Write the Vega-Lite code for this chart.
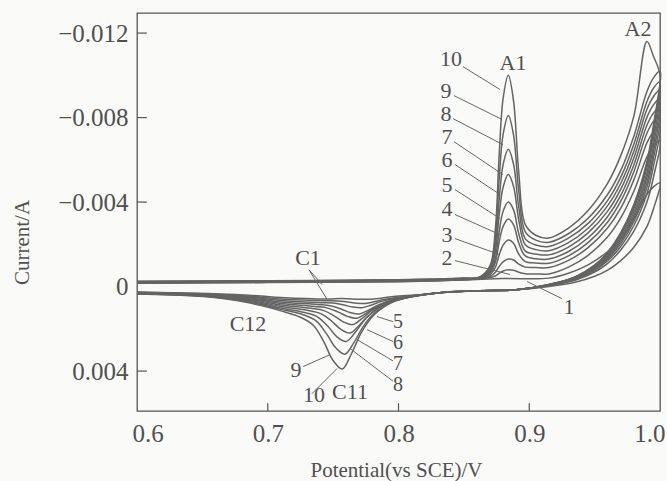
{
"$schema": "https://vega.github.io/schema/vega-lite/v6.json",
"width": 523, "height": 398,
"autosize": {"type": "none"},
"padding": {"left": 137, "top": 13, "right": 7, "bottom": 70},
"background": "#fafaf8",
"config": {"view": {"stroke": "#555555", "strokeWidth": 1.3}, "font": "Liberation Serif"},
"datasets": {
"cv": [
{"c":10,"v":0.6,"i":-0.00025},{"c":10,"v":0.7,"i":-0.00028},{"c":10,"v":0.8,"i":-0.00032},{"c":10,"v":0.85,"i":-0.0004},{"c":10,"v":0.862,"i":-0.00045},{"c":10,"v":0.87,"i":-0.00099},{"c":10,"v":0.874,"i":-0.00267},{"c":10,"v":0.877,"i":-0.00623},{"c":10,"v":0.88,"i":-0.0089},{"c":10,"v":0.884,"i":-0.01},{"c":10,"v":0.888,"i":-0.00878},{"c":10,"v":0.892,"i":-0.00538},{"c":10,"v":0.897,"i":-0.00293},{"c":10,"v":0.905,"i":-0.00243},{"c":10,"v":0.915,"i":-0.0023},{"c":10,"v":0.93,"i":-0.00277},{"c":10,"v":0.945,"i":-0.0036},{"c":10,"v":0.96,"i":-0.0049},{"c":10,"v":0.97,"i":-0.0062},{"c":10,"v":0.98,"i":-0.00807},{"c":10,"v":0.99,"i":-0.0116},{"c":10,"v":0.995,"i":-0.0109},{"c":10,"v":1.0,"i":-0.01},
{"c":10,"v":0.995,"i":-0.0075},{"c":10,"v":0.99,"i":-0.0058},{"c":10,"v":0.98,"i":-0.0038},{"c":10,"v":0.97,"i":-0.0025},{"c":10,"v":0.96,"i":-0.0016},{"c":10,"v":0.95,"i":-0.001},{"c":10,"v":0.935,"i":-0.00045},{"c":10,"v":0.915,"i":-0.0001},{"c":10,"v":0.89,"i":0.00015},{"c":10,"v":0.86,"i":0.0002},{"c":10,"v":0.83,"i":0.0003},{"c":10,"v":0.797,"i":0.0007},{"c":10,"v":0.782,"i":0.0013},{"c":10,"v":0.772,"i":0.00213},{"c":10,"v":0.764,"i":0.00318},{"c":10,"v":0.757,"i":0.0039},{"c":10,"v":0.75,"i":0.0035},{"c":10,"v":0.743,"i":0.00263},{"c":10,"v":0.735,"i":0.00184},{"c":10,"v":0.725,"i":0.00145},{"c":10,"v":0.71,"i":0.00115},{"c":10,"v":0.695,"i":0.0009},{"c":10,"v":0.675,"i":0.00065},{"c":10,"v":0.645,"i":0.00045},{"c":10,"v":0.6,"i":0.00035},
{"c":9,"v":0.6,"i":-0.00024},{"c":9,"v":0.7,"i":-0.00027},{"c":9,"v":0.8,"i":-0.00031},{"c":9,"v":0.85,"i":-0.00039},{"c":9,"v":0.862,"i":-0.00044},{"c":9,"v":0.87,"i":-0.0009},{"c":9,"v":0.874,"i":-0.00226},{"c":9,"v":0.877,"i":-0.00509},{"c":9,"v":0.88,"i":-0.0072},{"c":9,"v":0.884,"i":-0.0081},{"c":9,"v":0.888,"i":-0.00717},{"c":9,"v":0.892,"i":-0.0045},{"c":9,"v":0.897,"i":-0.00259},{"c":9,"v":0.905,"i":-0.0022},{"c":9,"v":0.915,"i":-0.0021},{"c":9,"v":0.93,"i":-0.0025},{"c":9,"v":0.945,"i":-0.00323},{"c":9,"v":0.96,"i":-0.00437},{"c":9,"v":0.97,"i":-0.0055},{"c":9,"v":0.98,"i":-0.00712},{"c":9,"v":0.99,"i":-0.00923},{"c":9,"v":0.995,"i":-0.00988},{"c":9,"v":1.0,"i":-0.0102},
{"c":9,"v":0.995,"i":-0.00765},{"c":9,"v":0.99,"i":-0.00592},{"c":9,"v":0.98,"i":-0.00388},{"c":9,"v":0.97,"i":-0.00255},{"c":9,"v":0.96,"i":-0.00163},{"c":9,"v":0.95,"i":-0.00102},{"c":9,"v":0.935,"i":-0.00046},{"c":9,"v":0.915,"i":-0.0001},{"c":9,"v":0.89,"i":0.00015},{"c":9,"v":0.86,"i":0.0002},{"c":9,"v":0.83,"i":0.0003},{"c":9,"v":0.799,"i":0.00064},{"c":9,"v":0.784,"i":0.00113},{"c":9,"v":0.774,"i":0.0018},{"c":9,"v":0.766,"i":0.00264},{"c":9,"v":0.759,"i":0.0032},{"c":9,"v":0.752,"i":0.0029},{"c":9,"v":0.745,"i":0.00224},{"c":9,"v":0.737,"i":0.00162},{"c":9,"v":0.727,"i":0.00133},{"c":9,"v":0.71,"i":0.00108},{"c":9,"v":0.695,"i":0.00085},{"c":9,"v":0.675,"i":0.00062},{"c":9,"v":0.645,"i":0.00044},{"c":9,"v":0.6,"i":0.00034},
{"c":8,"v":0.6,"i":-0.00023},{"c":8,"v":0.7,"i":-0.00026},{"c":8,"v":0.8,"i":-0.0003},{"c":8,"v":0.85,"i":-0.00038},{"c":8,"v":0.862,"i":-0.00043},{"c":8,"v":0.87,"i":-0.00082},{"c":8,"v":0.874,"i":-0.0019},{"c":8,"v":0.877,"i":-0.00411},{"c":8,"v":0.88,"i":-0.00578},{"c":8,"v":0.884,"i":-0.0065},{"c":8,"v":0.888,"i":-0.00579},{"c":8,"v":0.892,"i":-0.00374},{"c":8,"v":0.897,"i":-0.00226},{"c":8,"v":0.905,"i":-0.00197},{"c":8,"v":0.915,"i":-0.0019},{"c":8,"v":0.93,"i":-0.00229},{"c":8,"v":0.945,"i":-0.00299},{"c":8,"v":0.96,"i":-0.00408},{"c":8,"v":0.97,"i":-0.00518},{"c":8,"v":0.98,"i":-0.00674},{"c":8,"v":0.99,"i":-0.00876},{"c":8,"v":0.995,"i":-0.00939},{"c":8,"v":1.0,"i":-0.0097},
{"c":8,"v":0.995,"i":-0.00728},{"c":8,"v":0.99,"i":-0.00563},{"c":8,"v":0.98,"i":-0.00369},{"c":8,"v":0.97,"i":-0.00243},{"c":8,"v":0.96,"i":-0.00155},{"c":8,"v":0.95,"i":-0.00097},{"c":8,"v":0.935,"i":-0.00044},{"c":8,"v":0.915,"i":-0.00009},{"c":8,"v":0.89,"i":0.00015},{"c":8,"v":0.86,"i":0.0002},{"c":8,"v":0.83,"i":0.0003},{"c":8,"v":0.8,"i":0.0006},{"c":8,"v":0.785,"i":0.00099},{"c":8,"v":0.775,"i":0.00151},{"c":8,"v":0.767,"i":0.00216},{"c":8,"v":0.76,"i":0.0026},{"c":8,"v":0.753,"i":0.00238},{"c":8,"v":0.746,"i":0.00188},{"c":8,"v":0.738,"i":0.00143},{"c":8,"v":0.728,"i":0.00123},{"c":8,"v":0.71,"i":0.00101},{"c":8,"v":0.695,"i":0.0008},{"c":8,"v":0.675,"i":0.00059},{"c":8,"v":0.645,"i":0.00042},{"c":8,"v":0.6,"i":0.00033},
{"c":7,"v":0.6,"i":-0.00022},{"c":7,"v":0.7,"i":-0.00025},{"c":7,"v":0.8,"i":-0.00029},{"c":7,"v":0.85,"i":-0.00037},{"c":7,"v":0.862,"i":-0.00042},{"c":7,"v":0.87,"i":-0.00076},{"c":7,"v":0.874,"i":-0.00163},{"c":7,"v":0.877,"i":-0.00339},{"c":7,"v":0.88,"i":-0.0047},{"c":7,"v":0.884,"i":-0.0053},{"c":7,"v":0.888,"i":-0.00474},{"c":7,"v":0.892,"i":-0.00314},{"c":7,"v":0.897,"i":-0.00198},{"c":7,"v":0.905,"i":-0.00175},{"c":7,"v":0.915,"i":-0.0017},{"c":7,"v":0.93,"i":-0.00208},{"c":7,"v":0.945,"i":-0.00276},{"c":7,"v":0.96,"i":-0.00383},{"c":7,"v":0.97,"i":-0.00489},{"c":7,"v":0.98,"i":-0.00641},{"c":7,"v":0.99,"i":-0.00839},{"c":7,"v":0.995,"i":-0.009},{"c":7,"v":1.0,"i":-0.0093},
{"c":7,"v":0.995,"i":-0.00698},{"c":7,"v":0.99,"i":-0.00539},{"c":7,"v":0.98,"i":-0.00353},{"c":7,"v":0.97,"i":-0.00233},{"c":7,"v":0.96,"i":-0.00149},{"c":7,"v":0.95,"i":-0.00093},{"c":7,"v":0.935,"i":-0.00042},{"c":7,"v":0.915,"i":-0.00009},{"c":7,"v":0.89,"i":0.00015},{"c":7,"v":0.86,"i":0.0002},{"c":7,"v":0.83,"i":0.0003},{"c":7,"v":0.803,"i":0.00056},{"c":7,"v":0.788,"i":0.00089},{"c":7,"v":0.778,"i":0.00132},{"c":7,"v":0.77,"i":0.00183},{"c":7,"v":0.763,"i":0.0022},{"c":7,"v":0.756,"i":0.00203},{"c":7,"v":0.749,"i":0.00164},{"c":7,"v":0.741,"i":0.00129},{"c":7,"v":0.731,"i":0.00113},{"c":7,"v":0.71,"i":0.00094},{"c":7,"v":0.695,"i":0.00075},{"c":7,"v":0.675,"i":0.00056},{"c":7,"v":0.645,"i":0.00041},{"c":7,"v":0.6,"i":0.00032},
{"c":6,"v":0.6,"i":-0.00021},{"c":6,"v":0.7,"i":-0.00024},{"c":6,"v":0.8,"i":-0.00028},{"c":6,"v":0.85,"i":-0.00036},{"c":6,"v":0.862,"i":-0.00041},{"c":6,"v":0.87,"i":-0.00069},{"c":6,"v":0.874,"i":-0.00133},{"c":6,"v":0.877,"i":-0.0026},{"c":6,"v":0.88,"i":-0.00356},{"c":6,"v":0.884,"i":-0.004},{"c":6,"v":0.888,"i":-0.00363},{"c":6,"v":0.892,"i":-0.0025},{"c":6,"v":0.897,"i":-0.00168},{"c":6,"v":0.905,"i":-0.00154},{"c":6,"v":0.915,"i":-0.0015},{"c":6,"v":0.93,"i":-0.00187},{"c":6,"v":0.945,"i":-0.00254},{"c":6,"v":0.96,"i":-0.00357},{"c":6,"v":0.97,"i":-0.00461},{"c":6,"v":0.98,"i":-0.00609},{"c":6,"v":0.99,"i":-0.00801},{"c":6,"v":0.995,"i":-0.0086},{"c":6,"v":1.0,"i":-0.0089},
{"c":6,"v":0.995,"i":-0.00668},{"c":6,"v":0.99,"i":-0.00516},{"c":6,"v":0.98,"i":-0.00338},{"c":6,"v":0.97,"i":-0.00223},{"c":6,"v":0.96,"i":-0.00142},{"c":6,"v":0.95,"i":-0.00089},{"c":6,"v":0.935,"i":-0.0004},{"c":6,"v":0.915,"i":-0.00008},{"c":6,"v":0.89,"i":0.00015},{"c":6,"v":0.86,"i":0.0002},{"c":6,"v":0.83,"i":0.0003},{"c":6,"v":0.805,"i":0.00052},{"c":6,"v":0.79,"i":0.00079},{"c":6,"v":0.78,"i":0.00112},{"c":6,"v":0.772,"i":0.00152},{"c":6,"v":0.765,"i":0.0018},{"c":6,"v":0.758,"i":0.00168},{"c":6,"v":0.751,"i":0.0014},{"c":6,"v":0.743,"i":0.00114},{"c":6,"v":0.733,"i":0.00103},{"c":6,"v":0.71,"i":0.00087},{"c":6,"v":0.695,"i":0.0007},{"c":6,"v":0.675,"i":0.00053},{"c":6,"v":0.645,"i":0.00039},{"c":6,"v":0.6,"i":0.00031},
{"c":5,"v":0.6,"i":-0.0002},{"c":5,"v":0.7,"i":-0.00023},{"c":5,"v":0.8,"i":-0.00027},{"c":5,"v":0.85,"i":-0.00035},{"c":5,"v":0.862,"i":-0.0004},{"c":5,"v":0.87,"i":-0.00062},{"c":5,"v":0.874,"i":-0.00113},{"c":5,"v":0.877,"i":-0.00211},{"c":5,"v":0.88,"i":-0.00285},{"c":5,"v":0.884,"i":-0.0032},{"c":5,"v":0.888,"i":-0.00292},{"c":5,"v":0.892,"i":-0.00206},{"c":5,"v":0.897,"i":-0.00145},{"c":5,"v":0.905,"i":-0.00132},{"c":5,"v":0.915,"i":-0.0013},{"c":5,"v":0.93,"i":-0.00166},{"c":5,"v":0.945,"i":-0.00231},{"c":5,"v":0.96,"i":-0.00332},{"c":5,"v":0.97,"i":-0.00432},{"c":5,"v":0.98,"i":-0.00576},{"c":5,"v":0.99,"i":-0.00764},{"c":5,"v":0.995,"i":-0.00821},{"c":5,"v":1.0,"i":-0.0085},
{"c":5,"v":0.995,"i":-0.00638},{"c":5,"v":0.99,"i":-0.00493},{"c":5,"v":0.98,"i":-0.00323},{"c":5,"v":0.97,"i":-0.00213},{"c":5,"v":0.96,"i":-0.00136},{"c":5,"v":0.95,"i":-0.00085},{"c":5,"v":0.935,"i":-0.00038},{"c":5,"v":0.915,"i":-0.00007},{"c":5,"v":0.89,"i":0.00015},{"c":5,"v":0.86,"i":0.0002},{"c":5,"v":0.83,"i":0.0003},{"c":5,"v":0.808,"i":0.00049},{"c":5,"v":0.793,"i":0.0007},{"c":5,"v":0.783,"i":0.00096},{"c":5,"v":0.775,"i":0.00128},{"c":5,"v":0.768,"i":0.0015},{"c":5,"v":0.761,"i":0.00141},{"c":5,"v":0.754,"i":0.00121},{"c":5,"v":0.746,"i":0.00102},{"c":5,"v":0.736,"i":0.00094},{"c":5,"v":0.71,"i":0.0008},{"c":5,"v":0.695,"i":0.00065},{"c":5,"v":0.675,"i":0.0005},{"c":5,"v":0.645,"i":0.00038},{"c":5,"v":0.6,"i":0.0003},
{"c":4,"v":0.6,"i":-0.00019},{"c":4,"v":0.7,"i":-0.00022},{"c":4,"v":0.8,"i":-0.00026},{"c":4,"v":0.85,"i":-0.00034},{"c":4,"v":0.862,"i":-0.00039},{"c":4,"v":0.87,"i":-0.00056},{"c":4,"v":0.874,"i":-0.00089},{"c":4,"v":0.877,"i":-0.0015},{"c":4,"v":0.88,"i":-0.00196},{"c":4,"v":0.884,"i":-0.0022},{"c":4,"v":0.888,"i":-0.00205},{"c":4,"v":0.892,"i":-0.00153},{"c":4,"v":0.897,"i":-0.00118},{"c":4,"v":0.905,"i":-0.00112},{"c":4,"v":0.915,"i":-0.0011},{"c":4,"v":0.93,"i":-0.00145},{"c":4,"v":0.945,"i":-0.00208},{"c":4,"v":0.96,"i":-0.00306},{"c":4,"v":0.97,"i":-0.00404},{"c":4,"v":0.98,"i":-0.00544},{"c":4,"v":0.99,"i":-0.00726},{"c":4,"v":0.995,"i":-0.00782},{"c":4,"v":1.0,"i":-0.0081},
{"c":4,"v":0.995,"i":-0.00608},{"c":4,"v":0.99,"i":-0.0047},{"c":4,"v":0.98,"i":-0.00308},{"c":4,"v":0.97,"i":-0.00203},{"c":4,"v":0.96,"i":-0.0013},{"c":4,"v":0.95,"i":-0.00081},{"c":4,"v":0.935,"i":-0.00036},{"c":4,"v":0.915,"i":-0.00006},{"c":4,"v":0.89,"i":0.00015},{"c":4,"v":0.86,"i":0.0002},{"c":4,"v":0.83,"i":0.0003},{"c":4,"v":0.81,"i":0.00046},{"c":4,"v":0.795,"i":0.00064},{"c":4,"v":0.785,"i":0.00086},{"c":4,"v":0.777,"i":0.00112},{"c":4,"v":0.77,"i":0.0013},{"c":4,"v":0.763,"i":0.00123},{"c":4,"v":0.756,"i":0.00106},{"c":4,"v":0.748,"i":0.00091},{"c":4,"v":0.738,"i":0.00085},{"c":4,"v":0.71,"i":0.00073},{"c":4,"v":0.695,"i":0.0006},{"c":4,"v":0.675,"i":0.00047},{"c":4,"v":0.645,"i":0.00036},{"c":4,"v":0.6,"i":0.00029},
{"c":3,"v":0.6,"i":-0.00018},{"c":3,"v":0.7,"i":-0.00021},{"c":3,"v":0.8,"i":-0.00025},{"c":3,"v":0.85,"i":-0.00033},{"c":3,"v":0.862,"i":-0.00038},{"c":3,"v":0.87,"i":-0.00049},{"c":3,"v":0.874,"i":-0.00067},{"c":3,"v":0.877,"i":-0.00095},{"c":3,"v":0.88,"i":-0.00117},{"c":3,"v":0.884,"i":-0.0013},{"c":3,"v":0.888,"i":-0.00126},{"c":3,"v":0.892,"i":-0.00106},{"c":3,"v":0.897,"i":-0.00092},{"c":3,"v":0.905,"i":-0.0009},{"c":3,"v":0.915,"i":-0.0009},{"c":3,"v":0.93,"i":-0.00124},{"c":3,"v":0.945,"i":-0.00184},{"c":3,"v":0.96,"i":-0.00278},{"c":3,"v":0.97,"i":-0.00371},{"c":3,"v":0.98,"i":-0.00505},{"c":3,"v":0.99,"i":-0.0068},{"c":3,"v":0.995,"i":-0.00733},{"c":3,"v":1.0,"i":-0.0076},
{"c":3,"v":0.995,"i":-0.0057},{"c":3,"v":0.99,"i":-0.00441},{"c":3,"v":0.98,"i":-0.00289},{"c":3,"v":0.97,"i":-0.0019},{"c":3,"v":0.96,"i":-0.00122},{"c":3,"v":0.95,"i":-0.00076},{"c":3,"v":0.935,"i":-0.00033},{"c":3,"v":0.915,"i":-0.00005},{"c":3,"v":0.89,"i":0.00015},{"c":3,"v":0.86,"i":0.0002},{"c":3,"v":0.83,"i":0.0003},{"c":3,"v":0.812,"i":0.00043},{"c":3,"v":0.797,"i":0.00056},{"c":3,"v":0.787,"i":0.0007},{"c":3,"v":0.779,"i":0.00088},{"c":3,"v":0.772,"i":0.001},{"c":3,"v":0.765,"i":0.00097},{"c":3,"v":0.758,"i":0.00087},{"c":3,"v":0.75,"i":0.00078},{"c":3,"v":0.74,"i":0.00076},{"c":3,"v":0.71,"i":0.00066},{"c":3,"v":0.695,"i":0.00055},{"c":3,"v":0.675,"i":0.00044},{"c":3,"v":0.645,"i":0.00035},{"c":3,"v":0.6,"i":0.00028},
{"c":2,"v":0.6,"i":-0.00017},{"c":2,"v":0.7,"i":-0.0002},{"c":2,"v":0.8,"i":-0.00024},{"c":2,"v":0.85,"i":-0.00032},{"c":2,"v":0.862,"i":-0.00037},{"c":2,"v":0.87,"i":-0.00043},{"c":2,"v":0.874,"i":-0.0005},{"c":2,"v":0.877,"i":-0.00063},{"c":2,"v":0.88,"i":-0.00074},{"c":2,"v":0.884,"i":-0.0008},{"c":2,"v":0.888,"i":-0.00077},{"c":2,"v":0.892,"i":-0.00068},{"c":2,"v":0.897,"i":-0.00061},{"c":2,"v":0.905,"i":-0.0006},{"c":2,"v":0.915,"i":-0.0006},{"c":2,"v":0.93,"i":-0.00092},{"c":2,"v":0.945,"i":-0.00148},{"c":2,"v":0.96,"i":-0.00236},{"c":2,"v":0.97,"i":-0.00325},{"c":2,"v":0.98,"i":-0.00451},{"c":2,"v":0.99,"i":-0.00614},{"c":2,"v":0.995,"i":-0.00665},{"c":2,"v":1.0,"i":-0.0069},
{"c":2,"v":0.995,"i":-0.00518},{"c":2,"v":0.99,"i":-0.004},{"c":2,"v":0.98,"i":-0.00262},{"c":2,"v":0.97,"i":-0.00173},{"c":2,"v":0.96,"i":-0.0011},{"c":2,"v":0.95,"i":-0.00069},{"c":2,"v":0.935,"i":-0.0003},{"c":2,"v":0.915,"i":-0.00004},{"c":2,"v":0.89,"i":0.00015},{"c":2,"v":0.86,"i":0.0002},{"c":2,"v":0.83,"i":0.0003},{"c":2,"v":0.815,"i":0.0004},{"c":2,"v":0.8,"i":0.0005},{"c":2,"v":0.79,"i":0.0006},{"c":2,"v":0.782,"i":0.00071},{"c":2,"v":0.775,"i":0.0008},{"c":2,"v":0.768,"i":0.00079},{"c":2,"v":0.761,"i":0.00073},{"c":2,"v":0.753,"i":0.00068},{"c":2,"v":0.743,"i":0.00067},{"c":2,"v":0.71,"i":0.00059},{"c":2,"v":0.695,"i":0.0005},{"c":2,"v":0.675,"i":0.00041},{"c":2,"v":0.645,"i":0.00033},{"c":2,"v":0.6,"i":0.00027},
{"c":1,"v":0.6,"i":-0.00016},{"c":1,"v":0.7,"i":-0.00019},{"c":1,"v":0.8,"i":-0.00023},{"c":1,"v":0.85,"i":-0.00031},{"c":1,"v":0.88,"i":-0.00038},{"c":1,"v":0.915,"i":-0.0004},{"c":1,"v":0.93,"i":-0.00063},{"c":1,"v":0.945,"i":-0.00103},{"c":1,"v":0.96,"i":-0.00166},{"c":1,"v":0.97,"i":-0.00229},{"c":1,"v":0.98,"i":-0.00319},{"c":1,"v":0.99,"i":-0.00436},{"c":1,"v":0.995,"i":-0.00472},{"c":1,"v":1.0,"i":-0.0049},
{"c":1,"v":0.995,"i":-0.00368},{"c":1,"v":0.99,"i":-0.00284},{"c":1,"v":0.98,"i":-0.00186},{"c":1,"v":0.97,"i":-0.00123},{"c":1,"v":0.96,"i":-0.00078},{"c":1,"v":0.95,"i":-0.00049},{"c":1,"v":0.935,"i":-0.0002},{"c":1,"v":0.915,"i":0.0},{"c":1,"v":0.89,"i":0.00015},{"c":1,"v":0.86,"i":0.0002},{"c":1,"v":0.83,"i":0.0003},{"c":1,"v":0.818,"i":0.00038},{"c":1,"v":0.803,"i":0.00043},{"c":1,"v":0.793,"i":0.00049},{"c":1,"v":0.785,"i":0.00056},{"c":1,"v":0.778,"i":0.0006},{"c":1,"v":0.771,"i":0.0006},{"c":1,"v":0.764,"i":0.00059},{"c":1,"v":0.756,"i":0.00057},{"c":1,"v":0.746,"i":0.00059},{"c":1,"v":0.71,"i":0.00052},{"c":1,"v":0.695,"i":0.00045},{"c":1,"v":0.675,"i":0.00038},{"c":1,"v":0.645,"i":0.00032},{"c":1,"v":0.6,"i":0.00026}
],
"lead": [
{"v":0.8493,"i":-0.01041,"v2":0.8776,"i2":-0.00933},
{"v":0.8424,"i":-0.00904,"v2":0.8792,"i2":-0.00791},
{"v":0.8417,"i":-0.00795,"v2":0.8799,"i2":-0.00672},
{"v":0.8424,"i":-0.00686,"v2":0.8799,"i2":-0.0053},
{"v":0.8432,"i":-0.00578,"v2":0.8776,"i2":-0.00436},
{"v":0.8432,"i":-0.00459,"v2":0.8776,"i2":-0.00322},
{"v":0.8432,"i":-0.00341,"v2":0.8776,"i2":-0.00246},
{"v":0.8432,"i":-0.00227,"v2":0.8776,"i2":-0.00151},
{"v":0.8432,"i":-0.00123,"v2":0.8853,"i2":-0.00057},
{"v":0.925,"i":0.00057,"v2":0.8983,"i2":-0.00024},
{"v":0.7315,"i":-0.0008,"v2":0.7415,"i2":-0.0001},
{"v":0.7315,"i":-0.0008,"v2":0.7453,"i2":0.0006},
{"v":0.7958,"i":0.00166,"v2":0.7836,"i2":0.00142},
{"v":0.7958,"i":0.0026,"v2":0.7759,"i2":0.00204},
{"v":0.7958,"i":0.00352,"v2":0.7683,"i2":0.00251},
{"v":0.7958,"i":0.00448,"v2":0.7629,"i2":0.00293},
{"v":0.727,"i":0.00379,"v2":0.7476,"i2":0.00322},
{"v":0.7338,"i":0.00507,"v2":0.753,"i2":0.00388}
],
"tk": [
{"v":0.7,"i":0.00589,"v2":0.7,"i2":0.00552},
{"v":0.8,"i":0.00589,"v2":0.8,"i2":0.00552},
{"v":0.9,"i":0.00589,"v2":0.9,"i2":0.00552},
{"v":0.6,"i":-0.012,"v2":0.6075,"i2":-0.012},
{"v":0.6,"i":-0.008,"v2":0.6075,"i2":-0.008},
{"v":0.6,"i":-0.004,"v2":0.6075,"i2":-0.004},
{"v":0.6,"i":0.004,"v2":0.6075,"i2":0.004}
],
"lab": [
{"t":"10","v":0.8402,"i":-0.01079},
{"t":"9","v":0.8363,"i":-0.00928},
{"t":"8","v":0.8363,"i":-0.00819},
{"t":"7","v":0.8371,"i":-0.0071},
{"t":"6","v":0.8371,"i":-0.00601},
{"t":"5","v":0.8371,"i":-0.00483},
{"t":"4","v":0.8371,"i":-0.00365},
{"t":"3","v":0.8371,"i":-0.00246},
{"t":"2","v":0.8371,"i":-0.00133},
{"t":"1","v":0.9304,"i":0.00099},
{"t":"A1","v":0.8876,"i":-0.01056},
{"t":"A2","v":0.9832,"i":-0.01221},
{"t":"C1","v":0.7308,"i":-0.00133},
{"t":"C12","v":0.6849,"i":0.00175},
{"t":"9","v":0.7216,"i":0.00393},
{"t":"10","v":0.7354,"i":0.00511},
{"t":"C11","v":0.7629,"i":0.00497}
],
"lab2": [
{"t":"5","v":0.7996,"i":0.0017},
{"t":"6","v":0.7996,"i":0.00268},
{"t":"7","v":0.7996,"i":0.00366},
{"t":"8","v":0.7996,"i":0.00464}
]
},
"layer": [
{
"data": {"name": "cv"},
"mark": {"type": "line", "interpolate": "catmull-rom", "color": "#646464", "strokeWidth": 1.5},
"encoding": {
"x": {"field": "v", "type": "quantitative",
"scale": {"domain": [0.6, 1.0], "nice": false, "zero": false},
"axis": {"values": [0.6, 0.7, 0.8, 0.9, 1.0], "format": ".1f", "labelFlush": true, "labelFlushOffset": 5,
"title": "Potential(vs SCE)/V", "titleX": 259, "titleY": 59, "titleBaseline": "middle", "titleAlign": "center",
"titleFont": "Liberation Serif", "titleFontSize": 21, "titleFontWeight": "normal", "titleColor": "#505050",
"labelFont": "Liberation Serif", "labelFontSize": 25, "labelColor": "#505050",
"domain": false, "grid": false, "ticks": false, "labelPadding": 10}},
"y": {"field": "i", "type": "quantitative",
"scale": {"domain": [-0.01295, 0.00589], "reverse": true, "nice": false, "zero": false},
"axis": {"values": [-0.012, -0.008, -0.004, 0, 0.004],
"labelExpr": "datum.value == 0 ? '0' : format(datum.value, '.3f')",
"title": "Current/A", "titleX": -115, "titleY": 229, "titleAngle": -90, "titleBaseline": "middle", "titleAlign": "center",
"titleFont": "Liberation Serif", "titleFontSize": 21, "titleFontWeight": "normal", "titleColor": "#505050",
"labelFont": "Liberation Serif", "labelFontSize": 25, "labelColor": "#505050",
"domain": false, "grid": false, "ticks": false, "labelPadding": 9}},
"detail": {"field": "c", "type": "nominal"},
"order": {"value": null}
}
},
{
"data": {"name": "tk"},
"mark": {"type": "rule", "color": "#555555", "strokeWidth": 1.2},
"encoding": {
"x": {"field": "v", "type": "quantitative"},
"y": {"field": "i", "type": "quantitative"},
"x2": {"field": "v2"},
"y2": {"field": "i2"}
}
},
{
"data": {"name": "lead"},
"mark": {"type": "rule", "color": "#666666", "strokeWidth": 1},
"encoding": {
"x": {"field": "v", "type": "quantitative"},
"y": {"field": "i", "type": "quantitative"},
"x2": {"field": "v2"},
"y2": {"field": "i2"}
}
},
{
"data": {"name": "lab"},
"mark": {"type": "text", "font": "Liberation Serif", "fontSize": 22, "color": "#505050", "align": "center", "baseline": "middle"},
"encoding": {
"x": {"field": "v", "type": "quantitative"},
"y": {"field": "i", "type": "quantitative"},
"text": {"field": "t"}
}
},
{
"data": {"name": "lab2"},
"mark": {"type": "text", "font": "Liberation Serif", "fontSize": 20, "color": "#505050", "align": "center", "baseline": "middle"},
"encoding": {
"x": {"field": "v", "type": "quantitative"},
"y": {"field": "i", "type": "quantitative"},
"text": {"field": "t"}
}
}
]
}
